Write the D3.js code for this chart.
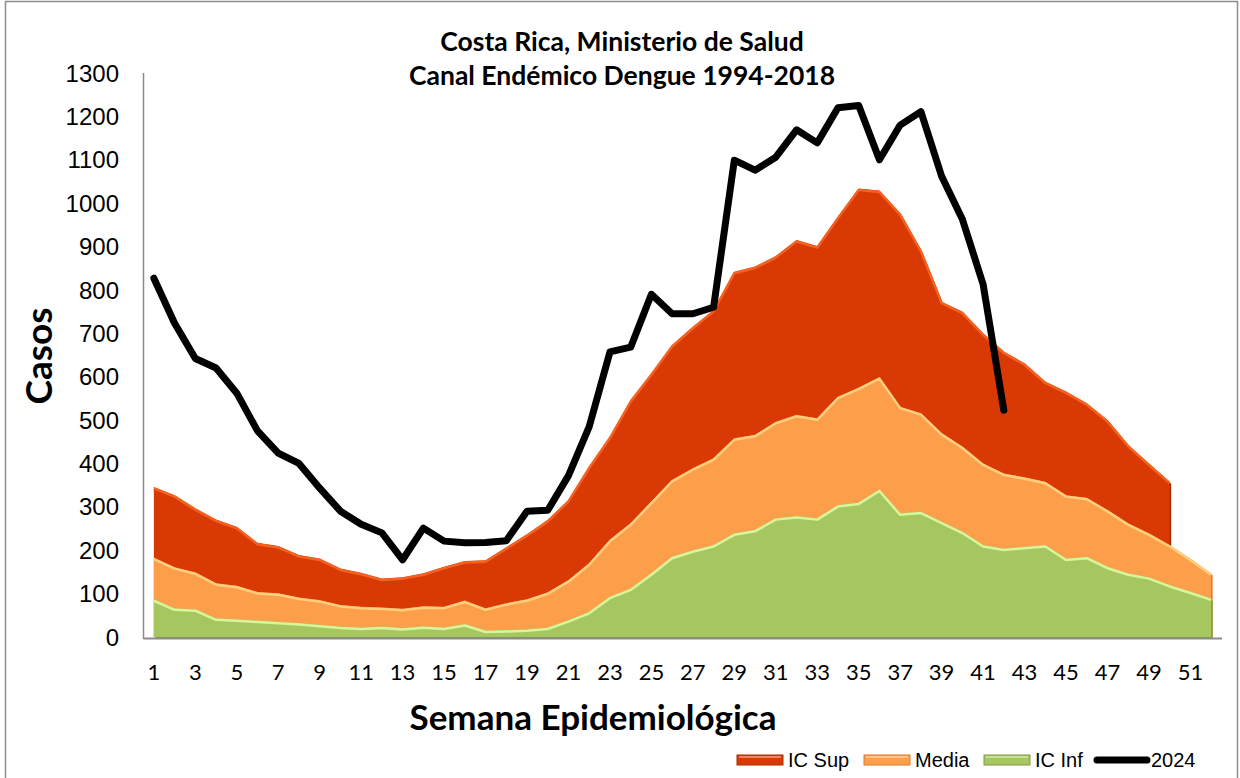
<!DOCTYPE html>
<html>
<head>
<meta charset="utf-8">
<script src="https://cdn.jsdelivr.net/npm/d3@7"></script>
<style>
  body { margin: 0; background: #fff; }
  svg { display: block; }
</style>
</head>
<body>
<div id="chart"></div>
<script>
// semanas epidemiologicas
var weeks = [1,2,3,4,5,6,7,8,9,10,11,12,13,14,15,16,17,18,19,20,21,22,23,24,25,26,
             27,28,29,30,31,32,33,34,35,36,37,38,39,40,41,42,43,44,45,46,47,48,49,50,51,52];

// canal endemico
var icSup = [346,327,297,271,254,217,210,189,181,158,148,135,138,147,162,175,177,207,237,270,
             316,393,462,546,608,673,715,754,842,854,878,915,901,969,1034,1029,977,892,773,750,
             700,658,631,589,566,539,500,443,400,358];
var media = [183,161,149,124,118,104,101,91,85,74,70,68,65,71,70,84,66,78,87,103,
             131,170,224,262,312,362,389,412,458,466,496,512,504,554,575,599,531,516,470,439,
             400,377,368,358,327,321,293,262,239,212,181,147];
var icInf = [87,66,64,43,41,38,35,32,28,24,22,24,21,25,22,30,15,16,18,22,
             39,58,93,112,147,185,200,212,239,247,274,279,274,304,310,340,285,289,266,243,
             212,204,208,212,181,185,162,147,138,120,105,89];
var casos2024 = [827,723,642,620,562,475,424,400,343,290,260,240,178,251,221,217,218,222,290,292,
                 372,485,657,668,790,745,745,760,1099,1076,1106,1169,1139,1220,1225,1100,1180,1211,1062,963,
                 813,523];

var yTicks = [0,100,200,300,400,500,600,700,800,900,1000,1100,1200,1300];
var xLabels = weeks.filter(function(w){ return w % 2 === 1; });

var width = 1240, height = 778;

var svg = d3.select("#chart").append("svg")
    .attr("width", width)
    .attr("height", height);

// marco del grafico
svg.append("rect")
    .attr("x", 5.5).attr("y", 1.5)
    .attr("width", 1232).attr("height", 820)
    .attr("fill", "#fff")
    .attr("stroke", "#8c8c8c")
    .attr("stroke-width", 1.5);

var x = d3.scalePoint()
    .domain(weeks)
    .range([143.5, 1221.5])
    .padding(0.5);

var y = d3.scaleLinear()
    .domain([0, 1300])
    .range([637, 73]);

var series = [
  { name: "IC Sup", values: icSup, fill: "#d93a05", edge: "#f5611f", dark: "#a82c03" },
  { name: "Media",  values: media, fill: "#fd9f4a", edge: "#ffce7e", dark: "#d97d2a" },
  { name: "IC Inf", values: icInf, fill: "#a6c660", edge: "#d9f59c", dark: "#7f9c40" }
];

var area = d3.area()
    .x(function(d, i){ return x(weeks[i]); })
    .y0(y(0))
    .y1(function(d){ return y(d); });

var topLine = d3.line()
    .x(function(d, i){ return x(weeks[i]); })
    .y(function(d){ return y(d); });

var plot = svg.append("g");

series.forEach(function(s) {
  // sombra
  plot.append("path")
      .datum(s.values)
      .attr("d", area)
      .attr("fill", s.dark)
      .attr("transform", "translate(1.5,2)");
  plot.append("path")
      .datum(s.values)
      .attr("d", area)
      .attr("fill", s.fill);
  // borde biselado
  plot.append("path")
      .datum(s.values)
      .attr("d", topLine)
      .attr("fill", "none")
      .attr("stroke", s.edge)
      .attr("stroke-width", 2.5)
      .attr("stroke-linejoin", "round")
      .attr("transform", "translate(0,1.5)");
});

// ejes
svg.append("line")
    .attr("x1", 143.5).attr("x2", 143.5)
    .attr("y1", y(1300)).attr("y2", y(0) + 2)
    .attr("stroke", "#8c8c8c").attr("stroke-width", 1.5);
svg.append("line")
    .attr("x1", 143.5).attr("x2", 1222)
    .attr("y1", y(0) + 1.5).attr("y2", y(0) + 1.5)
    .attr("stroke", "#8c8c8c").attr("stroke-width", 2);

// linea 2024
svg.append("path")
    .datum(casos2024)
    .attr("d", topLine)
    .attr("fill", "none")
    .attr("stroke", "#000")
    .attr("stroke-width", 7)
    .attr("stroke-linejoin", "round")
    .attr("stroke-linecap", "round");

// etiquetas eje Y
svg.append("g").selectAll("text")
    .data(yTicks).enter()
    .append("text")
    .attr("x", 119)
    .attr("y", function(d){ return y(d); })
    .attr("dy", "0.36em")
    .attr("text-anchor", "end")
    .attr("font-family", "Liberation Sans, Arial, sans-serif")
    .attr("font-size", "24px")
    .attr("fill", "#000")
    .text(function(d){ return d; });

// etiquetas eje X
svg.append("g").selectAll("text")
    .data(xLabels).enter()
    .append("text")
    .attr("x", function(d){ return x(d); })
    .attr("y", 680)
    .attr("text-anchor", "middle")
    .attr("font-family", "Lato, sans-serif")
    .attr("font-size", "22px")
    .attr("fill", "#000")
    .text(function(d){ return d; });

// titulos
svg.append("text")
    .attr("x", 622).attr("y", 51)
    .attr("text-anchor", "middle")
    .attr("font-family", "Lato, sans-serif")
    .attr("font-weight", "bold")
    .attr("font-size", "26.5px")
    .text("Costa Rica, Ministerio de Salud");
svg.append("text")
    .attr("x", 622).attr("y", 85)
    .attr("text-anchor", "middle")
    .attr("font-family", "Lato, sans-serif")
    .attr("font-weight", "bold")
    .attr("font-size", "26.5px")
    .text("Canal Endémico Dengue 1994-2018");

svg.append("text")
    .attr("x", 593).attr("y", 730)
    .attr("text-anchor", "middle")
    .attr("font-family", "Lato, sans-serif")
    .attr("font-weight", "bold")
    .attr("font-size", "35px")
    .text("Semana Epidemiológica");

svg.append("text")
    .attr("transform", "translate(52,356) rotate(-90)")
    .attr("text-anchor", "middle")
    .attr("font-family", "Lato, sans-serif")
    .attr("font-weight", "bold")
    .attr("font-size", "37px")
    .text("Casos");

// leyenda
var legendItems = [
  { name: "IC Sup", fill: "#d93a05", edge: "#a82c03", x: 737, type: "area" },
  { name: "Media",  fill: "#fd9f4a", edge: "#d97d2a", x: 864, type: "area" },
  { name: "IC Inf", fill: "#a6c660", edge: "#7f9c40", x: 984, type: "area" },
  { name: "2024",   fill: "#000",    edge: "#000",    x: 1093, type: "line" }
];

var legend = svg.append("g");
legendItems.forEach(function(it) {
  if (it.type === "area") {
    legend.append("rect")
        .attr("x", it.x).attr("y", 755)
        .attr("width", 46).attr("height", 10)
        .attr("fill", it.fill)
        .attr("stroke", it.edge).attr("stroke-width", 1);
    legend.append("line")
        .attr("x1", it.x + 2).attr("x2", it.x + 44)
        .attr("y1", 757).attr("y2", 757)
        .attr("stroke", "#fff").attr("stroke-opacity", 0.4).attr("stroke-width", 2);
  } else {
    legend.append("line")
        .attr("x1", it.x + 4).attr("x2", it.x + 54)
        .attr("y1", 760).attr("y2", 760)
        .attr("stroke", "#000").attr("stroke-width", 7)
        .attr("stroke-linecap", "round");
  }
  legend.append("text")
      .attr("x", it.type === "area" ? it.x + 51 : it.x + 58)
      .attr("y", 767)
      .attr("font-family", "Liberation Sans, Arial, sans-serif")
      .attr("font-size", "20px")
      .attr("fill", "#000")
      .text(it.name);
});
</script>
</body>
</html>
